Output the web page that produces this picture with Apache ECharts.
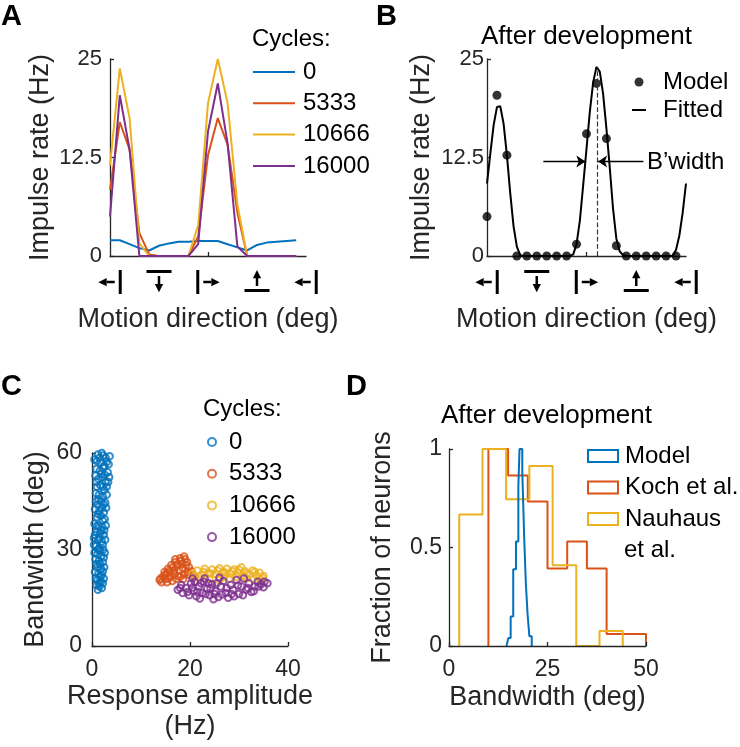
<!DOCTYPE html>
<html><head><meta charset="utf-8">
<script src="https://cdn.jsdelivr.net/npm/echarts@6/dist/echarts.min.js"></script>
<style>html,body{margin:0;padding:0;background:#fff}#c{width:740px;height:747px}</style>
</head><body><div id="c"></div><script>
// ---------- Panel A: tuning curves over development ----------
const dirDeg = [0,18,36,54,72,90,108,126,144,162,180,198,216,234,252,270,288,306,324,342];
const rate0     = [2.0,2.0,1.5,1.0,0.7,1.3,1.6,1.8,1.8,1.9,1.9,1.9,1.5,1.1,0.7,1.4,1.7,1.8,1.9,2.0];
const rate5333  = [8.4,17.0,13.5,2.9,0.2,0,0,0,0,2.5,12.8,17.5,14.1,5.5,0,0,0,0,0,0];
const rate10666 = [11.5,23.8,17.5,1.6,0,0,0,0,0,3.9,19.4,25.0,19.4,6.5,0,0,0,0,0,0];
const rate16000 = [5.0,20.4,13.5,0,0,0,0,0,0,1.5,15.8,21.9,14.3,1.2,0,0,0,0,0,0];
const dirTicks = [0,90,180,270,360];
const rateTicks = [0,12.5,25];

// ---------- Panel B: model vs fitted ----------
const modelRate = [5.0,20.4,12.8,0,0,0,0,0,0,1.5,15.5,21.9,14.9,1.3,0,0,0,0,0,0];
const fitDeg = [0,6,12,18,24,30,36,42,48,54,60,66,72,78,84,90,96,102,108,114,120,126,132,138,144,150,156,162,168,174,180,186,192,198,204,210,216,222,228,234,240,246,252,258,264,270,276,282,288,294,300,306,312,318,324,330,336,342,348,354,360];
const fitRate = [9.2,13.0,16.6,18.9,19.0,16.8,12.8,8.0,3.8,1.2,0.1,0,0,0,0,0,0,0,0,0,0,0,0,0,0,0,0.2,1.5,4.5,9.0,13.6,18.3,22.0,24.0,23.4,20.6,16.2,11.3,6.0,2.2,0.6,0.1,0,0,0,0,0,0,0,0,0,0,0,0,0,0,0,0.8,2.6,5.5,9.2];
// annotation positions (deg, Hz)
const bwLevel = 12, bwLeftFrom = 102, bwLeftTo = 178, bwRightFrom = 283, bwRightTo = 201, peakDeg = 199, peakTop = 24;

// ---------- Panel C: bandwidth vs amplitude ----------
const scat0 = [[1.2,59.5],[2.0,60],[2.8,58.5],[3.6,59],[1.0,57.5],[1.8,57],[2.5,56],[3.4,56.5],[0.9,55],[1.6,54.5],[2.3,55.5],[3.2,54],[3.5,52.5],[1.3,52],[2.1,52.5],[2.8,51],[3.0,49.5],[1.0,49.5],[1.7,50],[2.5,48.5],[0.8,47.5],[1.4,47],[2.2,46.5],[3.0,47],[1.9,45],[2.7,44.5],[1.1,44],[0.6,42.5],[1.5,42],[2.4,41.5],[2.9,43],[1.0,40],[1.8,40.5],[2.6,39.5],[0.5,38],[1.3,37.5],[2.1,37],[2.8,37.5],[0.9,35.5],[1.6,35],[2.4,34.5],[0.4,33.5],[1.2,33],[2.0,32.5],[2.7,33],[0.8,31],[1.5,30.5],[2.3,30],[0.5,29],[1.1,28.5],[1.9,28],[2.6,29],[0.7,27],[1.4,26.5],[2.2,26],[1.0,24.5],[1.8,24],[2.5,24.5],[0.6,23],[1.3,22.5],[2.0,22],[1.1,20.5],[1.8,20],[2.4,21],[0.9,19],[1.5,18.5],[1.2,17.5],[2.0,18],
  [0.5,58],[1.5,58.5],[2.3,59.2],[3.0,57.2],[0.7,53],[1.9,53.5],[2.6,53.2],[3.3,51],[0.9,51],[2.2,49.5],[1.3,45.5],[2.4,44],[0.8,45],[2.0,43],[1.2,41],[2.2,39],[0.9,37.2],[1.9,36],[2.5,36],[0.6,34.5],[1.5,33.5],[2.2,31.5],[1.2,30],[0.4,31.5],[1.7,29.5],[2.4,27.5],[0.9,25.5],[1.6,25.5],[2.2,23.2],[1.6,21.5],[0.8,21],[2.2,19.5],[1.4,19.5]];
const scat5333 = [[13.8,20.5],[14.5,21.5],[14.2,19.8],[15.2,22.5],[15.0,20.8],[15.8,23.5],[16.0,21.5],[16.5,24.5],[16.8,22.5],[17.2,20.8],[17.5,25.5],[17.8,23.5],[18.2,26.5],[18.5,24.2],[18.8,22.2],[19.2,25.2],[19.5,23.0],[18.0,27.3],[17.0,26.0],[16.2,25.2],[15.5,24.0],[19.8,24.5],[20.3,23.2],[20.6,22.0],[15.3,19.8],[16.4,20.2],[17.6,21.8],[18.6,20.8],[14.8,23.0],[19.0,27.0],
  [14.0,21.0],[15.6,21.0],[16.7,23.5],[17.3,24.8],[18.4,25.5],[19.4,26.0],[16.0,23.0],[18.0,21.5],[19.6,22.2],[14.9,22.0],[17.0,27.0],[18.8,27.8]];
const scat10666 = [[20.5,22.5],[21.5,23.5],[22.3,22.0],[23.0,24.0],[23.8,22.8],[24.5,23.8],[25.3,22.3],[26.0,24.2],[26.8,23.0],[27.5,24.0],[28.3,22.5],[29.0,23.8],[29.8,22.8],[30.5,24.5],[31.2,23.2],[32.0,22.2],[32.8,23.5],[33.5,22.0],[34.2,22.8],[35.0,21.8],[31.5,21.0],[33.0,20.8],[27.0,21.5],[24.0,21.0],[22.0,20.8],[29.5,21.5],[26.0,20.5],[34.5,20.5],
  [21.0,21.8],[22.8,23.0],[24.2,22.5],[25.6,23.5],[27.2,22.8],[28.6,23.2],[30.0,23.8],[31.6,22.6],[33.2,23.0],[34.8,21.2],[30.8,21.8],[28.0,21.0]];
const scat16000 = [[17.5,17.5],[18.2,19.0],[18.5,16.5],[19.2,18.0],[19.8,15.8],[20.2,19.5],[20.8,17.2],[21.3,15.5],[21.8,18.5],[22.5,16.5],[22.8,20.0],[23.5,17.8],[24.0,15.8],[24.5,19.2],[25.2,17.0],[25.8,15.2],[26.3,18.5],[26.8,20.2],[27.3,16.5],[27.8,15.0],[28.3,19.0],[28.8,17.5],[29.5,20.5],[30.0,16.2],[30.5,18.5],[31.0,21.0],[31.5,17.5],[32.0,19.5],[32.5,16.8],[33.2,18.5],[33.8,20.0],[34.5,19.2],[35.2,20.0],[35.8,19.5],[29.0,15.5],[23.0,21.0],[26.0,21.2],[20.5,21.0],[22.0,14.8],[24.8,14.5],
  [18.0,18.0],[19.5,16.8],[20.5,18.2],[21.5,16.8],[22.2,19.5],[23.2,16.2],[24.2,18.0],[25.5,19.5],[26.5,16.0],[27.5,18.0],[28.5,16.2],[29.8,18.8],[30.8,15.8],[31.8,18.0],[33.0,17.0],[34.0,18.5],[35.0,18.3],[25.0,16.2],[23.8,19.5],[21.0,20.0]];

// ---------- Panel D: bandwidth histograms ----------
const modelEdges = [14.6,15.05,15.65,16.3,17.0,17.6,17.9,18.6,19.1,19.5,19.95,20.4,21.0];
const modelFrac  = [0.01,0.04,0.15,0.39,0.53,0.81,1.0,0.885,0.54,0.32,0.16,0.05];
const kochEdges  = [10,15,20,25,30,35,40,45,50];
const kochFrac   = [1.0,0.865,0.733,0.394,0.53,0.394,0.061,0.061];
const nauhausEdges = [2.6,8.5,14.5,20.4,26.3,32.3,38.2,44.1];
const nauhausFrac  = [0.667,1.0,0.745,0.914,0.41,0,0.076];

const C0 = '#0072BD', C1 = '#D95319', C2 = '#EDB120', C3 = '#7E2F8E';
const AX = '#262626';
const FONT = 'Liberation Sans, Arial, Helvetica, sans-serif';

function zip(xs, ys){ return xs.map((x,i)=>[x, ys[i]]); }
function stairs(edges, vals){
  const pts = [[edges[0], 0]];
  vals.forEach((v,i)=>pts.push([edges[i], v]));
  pts.push([edges[edges.length-1], 0]);
  return pts;
}
// direction glyphs (bar + arrow) built from rich-text pieces
function dirIcon(v){
  if (v === 0 || v === 360) return '{tl|◀}{hs| }{s| }{v| }';
  if (v === 90) return '{h| }\n{g| }\n{vs| }\n{td|▼}';
  if (v === 180) return '{v| }{s| }{hs| }{tr|▶}';
  if (v === 270) return '{tu|▲}\n{vs| }\n{g| }\n{h| }';
  return '';
}
const tri = {fontFamily:'DejaVu Sans', fontSize:11, color:'#000', lineHeight:8, padding:0};
const iconRich = {
  tl: Object.assign({}, tri), tr: Object.assign({}, tri),
  td: Object.assign({}, tri), tu: Object.assign({}, tri),
  hs: {width:8, height:2.5, backgroundColor:'#000', fontSize:1},
  vs: {width:2.5, height:8, backgroundColor:'#000', fontSize:1, lineHeight:8},
  s: {width:4, fontSize:1},
  g: {width:1, height:3, fontSize:1, lineHeight:3},
  v: {width:3, height:24, backgroundColor:'#000', fontSize:1},
  h: {width:25, height:3, backgroundColor:'#000', fontSize:1, lineHeight:3}
};
const axisLineStyle = {show:true, lineStyle:{color:AX, width:1.3}};
const nameStyle = {fontSize:27, color:AX, fontFamily:FONT, lineHeight:30};

function dirAxis(gi){
  return {gridIndex:gi, type:'value', min:0, max:360, interval:90,
    axisLine: axisLineStyle,
    axisTick:{show:true, inside:true, length:4, customValues:[180], lineStyle:{color:AX, width:1.3}},
    splitLine:{show:false},
    axisLabel:{formatter:dirIcon, rich:iconRich, margin:14, showMinLabel:true, showMaxLabel:true, customValues:dirTicks},
    name:'Motion direction (deg)', nameLocation:'middle', nameGap:49, nameTextStyle:nameStyle};
}
function rateAxis(gi, margin, gap){
  return {gridIndex:gi, type:'value', min:0, max:25, interval:12.5,
    axisLine: axisLineStyle,
    axisTick:{show:true, inside:true, length:4, lineStyle:{color:AX, width:1.3}},
    splitLine:{show:false},
    axisLabel:{color:AX, fontSize:22, fontFamily:FONT, margin:margin, customValues:rateTicks},
    name:'Impulse rate (Hz)', nameLocation:'middle', nameGap:gap, nameTextStyle:nameStyle};
}
function plainAxis(gi, min, max, interval, name, gap, margin, extra){
  return Object.assign({gridIndex:gi, type:'value', min:min, max:max, interval:interval,
    axisLine: axisLineStyle,
    axisTick:{show:true, inside:true, length:4, lineStyle:{color:AX, width:1.3}},
    splitLine:{show:false},
    axisLabel:{color:AX, fontSize:23, fontFamily:FONT, margin:margin},
    name:name, nameLocation:'middle', nameGap:gap, nameTextStyle:nameStyle}, extra||{});
}

const labelMap = {A0:'0',A5333:'5333',A10666:'10666',A16000:'16000',
  C0:'0',C5333:'5333',C10666:'10666',C16000:'16000',
  BModel:'Model',BFitted:'Fitted',DModel:'Model',DKoch:'Koch et al.',DNauhaus:'Nauhaus'};
const fmt = n => labelMap[n];
const legText = {fontSize:24, color:'#000', fontFamily:FONT, lineHeight:24};
const hollow = c => ({color:'rgba(0,0,0,0)', borderColor:c, borderWidth:2});
const lineIcon = 'path://M0,0L14,0L14,2L0,2Z';

const titleStyle = (t, l, tp, size, bold) => ({text:t, left:l, top:tp, padding:0,
  textStyle:{fontSize:size, fontWeight:bold?'bold':'normal', color:'#000', fontFamily:FONT}});

const option = {
  animation:false,
  textStyle:{fontFamily:FONT},
  title:[
    titleStyle('A', 1, 2, 29, true),
    titleStyle('B', 376, 2, 29, true),
    titleStyle('C', 1, 372, 29, true),
    titleStyle('D', 346, 372, 29, true),
    titleStyle('After development', 481, 24, 26, false),
    titleStyle('After development', 441, 403, 26, false),
    titleStyle('Cycles:', 252, 27, 24, false),
    titleStyle('Cycles:', 203, 397, 24, false),
    titleStyle('B’width', 647, 150, 24, false),
    titleStyle('et al.', 624, 538, 24, false)
  ],
  grid:[
    {left:110, top:59, width:196, height:197, outerBoundsMode:'none'},
    {left:487, top:59, width:199, height:197, outerBoundsMode:'none'},
    {left:92, top:453, width:196, height:193, outerBoundsMode:'none'},
    {left:449, top:449, width:197, height:197, outerBoundsMode:'none'}
  ],
  xAxis:[
    dirAxis(0), dirAxis(1),
    plainAxis(2, 0, 40, 20, 'Response amplitude\n(Hz)', 35, 12),
    plainAxis(3, 0, 50, 25, 'Bandwidth (deg)', 37, 12, {z:5})
  ],
  yAxis:[
    rateAxis(0, 8, 52), rateAxis(1, 3, 50),
    plainAxis(2, 0, 60, 30, 'Bandwidth (deg)', 41, 10),
    plainAxis(3, 0, 1, 0.5, 'Fraction of neurons', 51, 7)
  ],
  legend:[
    {orient:'vertical', left:253, top:60, padding:0, itemGap:7.3, itemWidth:42, itemHeight:2,
     formatter:fmt, textStyle:Object.assign({padding:[0,0,0,3]}, legText), selectedMode:false,
     data:[{name:'A0', icon:'rect', itemStyle:{color:C0}},{name:'A5333', icon:'rect', itemStyle:{color:C1}},
           {name:'A10666', icon:'rect', itemStyle:{color:C2}},{name:'A16000', icon:'rect', itemStyle:{color:C3}}]},
    {orient:'vertical', left:632, top:70, padding:0, itemGap:4, itemWidth:14, itemHeight:9,
     formatter:fmt, textStyle:Object.assign({padding:[0,0,0,12]}, legText), selectedMode:false,
     data:[{name:'BModel', icon:'circle', itemStyle:{color:'#000'}}, {name:'BFitted', icon:lineIcon, itemStyle:{color:'#000'}}]},
    {orient:'vertical', left:207, top:430, padding:0, itemGap:7.7, itemWidth:8, itemHeight:8,
     formatter:fmt, textStyle:Object.assign({padding:[0,0,0,8]}, legText), selectedMode:false,
     data:[{name:'C0', icon:'circle', itemStyle:hollow(C0)},{name:'C5333', icon:'circle', itemStyle:hollow(C1)},
           {name:'C10666', icon:'circle', itemStyle:hollow(C2)},{name:'C16000', icon:'circle', itemStyle:hollow(C3)}]},
    {orient:'vertical', left:587, top:444, padding:0, itemGap:7.5, itemWidth:30, itemHeight:12,
     formatter:fmt, textStyle:Object.assign({padding:[0,0,0,2]}, legText), selectedMode:false,
     data:[{name:'DModel', icon:'rect', itemStyle:{color:'rgba(0,0,0,0)', borderColor:C0, borderWidth:2}},
           {name:'DKoch', icon:'rect', itemStyle:{color:'rgba(0,0,0,0)', borderColor:C1, borderWidth:2}},
           {name:'DNauhaus', icon:'rect', itemStyle:{color:'rgba(0,0,0,0)', borderColor:C2, borderWidth:2}}]}
  ],
  series:[
    // A
    {name:'A0', type:'line', xAxisIndex:0, yAxisIndex:0, data:zip(dirDeg, rate0), symbol:'none', color:C0, lineStyle:{width:2, color:C0}},
    {name:'A5333', type:'line', xAxisIndex:0, yAxisIndex:0, data:zip(dirDeg, rate5333), symbol:'none', color:C1, lineStyle:{width:2, color:C1}},
    {name:'A10666', type:'line', xAxisIndex:0, yAxisIndex:0, data:zip(dirDeg, rate10666), symbol:'none', color:C2, lineStyle:{width:2, color:C2}},
    {name:'A16000', type:'line', xAxisIndex:0, yAxisIndex:0, data:zip(dirDeg, rate16000), symbol:'none', color:C3, lineStyle:{width:2, color:C3}},
    // B
    {name:'BFitted', type:'line', xAxisIndex:1, yAxisIndex:1, data:zip(fitDeg, fitRate), symbol:'none', color:'#000', lineStyle:{width:2, color:'#000'},
     markLine:{silent:true, animation:false, symbol:['none','arrow'], symbolSize:9, label:{show:false},
       lineStyle:{color:'#000', width:1.3, type:'solid'},
       data:[
         [{coord:[bwLeftFrom, bwLevel]}, {coord:[bwLeftTo, bwLevel]}],
         [{coord:[bwRightFrom, bwLevel]}, {coord:[bwRightTo, bwLevel]}],
         [{coord:[peakDeg, 0], symbol:'none', lineStyle:{type:'dashed', width:1.2, color:'#333'}}, {coord:[peakDeg, peakTop], symbol:'none'}]
       ]}},
    {name:'BModel', type:'scatter', xAxisIndex:1, yAxisIndex:1, data:zip(dirDeg, modelRate), symbol:'circle', symbolSize:9, itemStyle:{color:'#000'}, z:3},
    // C
    {name:'C0', type:'scatter', xAxisIndex:2, yAxisIndex:2, data:scat0, symbol:'circle', symbolSize:6.5, itemStyle:hollow(C0)},
    {name:'C5333', type:'scatter', xAxisIndex:2, yAxisIndex:2, data:scat5333, symbol:'circle', symbolSize:6.5, itemStyle:hollow(C1)},
    {name:'C10666', type:'scatter', xAxisIndex:2, yAxisIndex:2, data:scat10666, symbol:'circle', symbolSize:6.5, itemStyle:hollow(C2)},
    {name:'C16000', type:'scatter', xAxisIndex:2, yAxisIndex:2, data:scat16000, symbol:'circle', symbolSize:6.5, itemStyle:hollow(C3)},
    // D
    {name:'DKoch', type:'line', step:'end', xAxisIndex:3, yAxisIndex:3, data:stairs(kochEdges, kochFrac), symbol:'none', color:C1, lineStyle:{width:2, color:C1}},
    {name:'DNauhaus', type:'line', step:'end', xAxisIndex:3, yAxisIndex:3, data:stairs(nauhausEdges, nauhausFrac), symbol:'none', color:C2, lineStyle:{width:2, color:C2}},
    {name:'DModel', type:'line', step:'end', xAxisIndex:3, yAxisIndex:3, data:stairs(modelEdges, modelFrac), symbol:'none', color:C0, lineStyle:{width:2, color:C0}}
  ]
};
const chart = echarts.init(document.getElementById('c'), null, {renderer:'canvas'});
chart.setOption(option);
</script></body></html>
